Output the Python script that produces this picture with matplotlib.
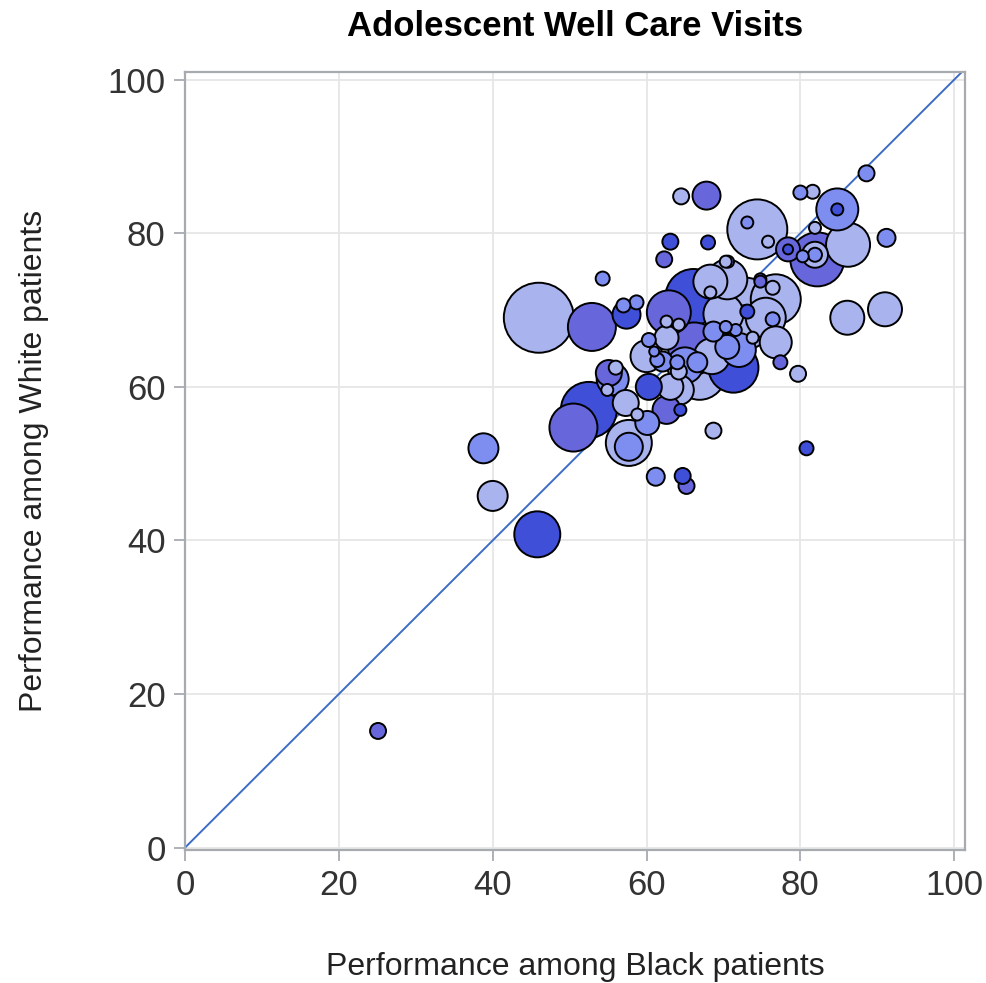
import matplotlib
matplotlib.use("Agg")
import matplotlib.pyplot as plt
import numpy as np

# performance (%) among Black / White patients, bubble size, shade group
black = [25.1, 38.8, 40.0, 45.8, 46.0, 52.9, 54.3, 50.5, 61.2, 64.7,
         65.2, 68.7, 79.7, 80.8, 86.1, 91.0, 91.2, 88.6, 64.5, 67.8,
         63.1, 68.0, 62.3, 80.0, 81.6, 57.4, 57.0, 58.7, 62.9, 66.1,
         68.3, 70.3, 68.3, 84.8, 84.8, 86.2, 82.2, 74.4, 73.1, 75.8,
         78.4, 78.4, 81.9, 81.9, 80.3, 81.9, 70.6, 72.9, 74.8, 70.5,
         76.8, 74.8, 76.4, 73.1, 76.4, 73.1, 70.3, 71.6, 73.8, 76.8,
         70.5, 68.7, 77.4, 71.3, 72.0, 52.5, 55.1, 56.0, 54.9, 57.3,
         57.7, 57.7, 58.8, 60.1, 60.3, 63.1, 61.4, 64.0, 62.6, 64.4,
         62.6, 64.2, 62.6, 60.3, 61.0, 62.1, 64.2, 64.2, 66.6, 66.2,
         66.9, 65.0, 60.0, 55.6, 70.0, 68.5, 75.5]
white = [15.2, 52.0, 45.8, 40.8, 69.0, 67.8, 74.1, 54.7, 48.3, 48.4,
         47.1, 54.3, 61.7, 52.0, 69.0, 70.1, 79.4, 87.8, 84.8, 84.9,
         78.9, 78.8, 76.6, 85.3, 85.4, 69.4, 70.6, 71.0, 69.7, 71.7,
         73.7, 76.3, 72.3, 83.1, 83.1, 78.5, 76.6, 80.5, 81.4, 78.9,
         77.9, 77.9, 77.2, 77.2, 77.0, 80.7, 76.3, 70.7, 73.7, 74.0,
         71.4, 74.0, 72.9, 69.8, 68.8, 67.8, 67.8, 67.4, 66.4, 65.8,
         65.2, 67.2, 63.2, 62.5, 64.8, 57.0, 61.8, 62.5, 59.6, 57.9,
         52.7, 52.2, 56.4, 55.3, 60.0, 60.0, 63.5, 63.2, 57.0, 57.0,
         68.5, 68.1, 66.4, 66.1, 64.6, 63.3, 62.0, 59.6, 63.2, 65.0,
         61.7, 62.8, 64.0, 61.0, 69.5, 64.0, 69.0]
size = [8, 15, 15, 23, 35, 24, 7, 24, 9, 8,
        8, 8, 8, 7, 17, 17, 9, 8, 8, 14,
        8, 7, 8, 7, 7, 14, 7, 7, 22, 28,
        17, 6, 6, 21, 6, 22, 27, 30, 6, 6,
        12, 5, 13, 7, 6, 6, 6, 27, 6, 20,
        25, 6, 7, 7, 7, 22, 6, 6, 6, 16,
        12, 10, 7, 25, 17, 28, 13, 7, 6, 13,
        23, 14, 6, 12, 13, 13, 7, 7, 14, 6,
        6, 6, 12, 7, 5, 10, 8, 15, 10, 26,
        26, 18, 16, 16, 20, 18, 20]
group = ("PMLDLPMPMDPLLDLLMMLPDDPMLDMMPDLLLMDLPLMLPDLMMLMLPLLPLDMLMMLLMMPDMDPLLLLMLMDLMMPDLLLMMMLLMPLMLM"
         "LLL")

palette = {"L": "#A9B3EE", "M": "#7E8EF0", "P": "#6766DB", "D": "#3F4FD8"}

fig = plt.figure(figsize=(9.87, 9.83), dpi=100)
ax = fig.add_axes([0.1874, 0.1353, 0.7903, 0.7915])

order = np.argsort(size, kind="stable")[::-1]
bx = np.array(black)[order]
wy = np.array(white)[order]
ss = (1.44 * np.array(size)[order]) ** 2
cc = [palette[group[i]] for i in order]

ax.plot([0, 110], [0, 110], color="#3D6CC6", lw=1.4, zorder=1)
ax.scatter(bx, wy, s=ss, c=cc, edgecolors="black", linewidths=1.4, zorder=2)

ax.set_xlim(0, 101.4)
ax.set_ylim(-0.3, 101)
ticks = [0, 20, 40, 60, 80, 100]
ax.set_xticks(ticks)
ax.set_yticks(ticks)
ax.grid(True, color="#e6e6e6", lw=1.3)
ax.set_axisbelow(True)
for sp in ax.spines.values():
    sp.set_color("#a7abb0")
    sp.set_linewidth(1.6)
ax.tick_params(length=8, width=1.3, color="#a7abb0", labelsize=25,
               labelcolor="#333333", pad=6)
for lab in ax.get_xticklabels() + ax.get_yticklabels():
    lab.set_family("Liberation Sans")

ax.set_xlabel("Performance among Black patients", fontsize=23,
              family="Liberation Sans", color="#222222", labelpad=36)
ax.set_ylabel("Performance among White patients", fontsize=23,
              family="Liberation Sans", color="#222222", labelpad=42)
ax.set_title("Adolescent Well Care Visits", fontsize=25, fontweight="bold",
             family="Liberation Sans", pad=26)

fig.savefig("out.png", dpi=100)
